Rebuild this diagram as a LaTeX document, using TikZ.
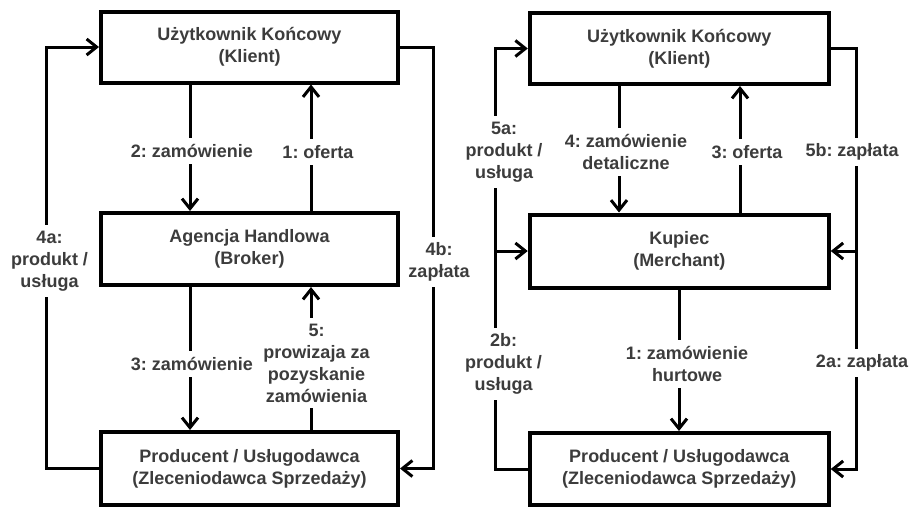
\documentclass[tikz,border=0pt]{standalone}
\usepackage{fontspec}
\setmainfont{Liberation Sans}
\usetikzlibrary{arrows.meta}
\definecolor{txt}{RGB}{60,60,60}
\frenchspacing
\begin{document}
\begin{tikzpicture}[x=1pt,y=-1pt,
  every node/.style={text=txt, font=\bfseries\fontsize{18}{22}\selectfont, align=center},
  box/.style={draw=black, line width=4pt, minimum width=297pt, inner sep=0pt},
  conn/.style={line width=3pt, -{Straight Barb[length=10pt,width=16pt]}},
  lbl/.style={fill=white, inner xsep=2pt, inner ysep=6pt}]
\useasboundingbox (0,0) rectangle (909,507);

% --- left scheme: broker ---
\node[box, minimum height=71pt] (U1) at (249.5,47)    {Użytkownik Końcowy\\(Klient)};
\node[box, minimum height=72pt] (A1) at (249.5,249)   {Agencja Handlowa\\(Broker)};
\node[box, minimum height=73pt] (P1) at (249.5,468.5) {Producent / Usługodawca\\(Zleceniodawca Sprzedaży)};

\coordinate (xa) at (46.5,0);
\coordinate (xb) at (433.5,0);
\coordinate (xo) at (190,0);
\coordinate (xu) at (311,0);

\draw[conn] (U1.south -| xo) -- (A1.north -| xo);
\draw[conn] (A1.north -| xu) -- (U1.south -| xu);
\draw[conn] (A1.south -| xo) -- (P1.north -| xo);
\draw[conn] (P1.north -| xu) -- (A1.south -| xu);
\draw[conn] (P1.west) -- (P1.west -| xa) -- (U1.west -| xa) -- (U1.west);
\draw[conn] (U1.east) -- (U1.east -| xb) -- (P1.east -| xb) -- (P1.east);

\node[lbl] (l2)  at (192,151)   {2: zamówienie};
\node[lbl] (l1)  at (318,152)   {1: oferta};
\node[lbl] (l4a) at (49.5,261)  {4a:\\produkt /\\usługa};
\node[lbl] (l4b) at (439,262)   {4b:\\zapłata};
\node[lbl] (l3)  at (192,364)   {3: zamówienie};
\node[lbl] (l5)  at (316.5,363) {5:\\prowizaja za\\pozyskanie\\zamówienia};

% --- right scheme: merchant ---
\node[box, minimum width=299pt, minimum height=71pt] (U2) at (679.25,48.5) {Użytkownik Końcowy\\(Klient)};
\node[box, minimum width=299pt, minimum height=73pt] (K)  at (679.25,251)  {Kupiec\\(Merchant)};
\node[box, minimum width=299pt, minimum height=72pt] (P2) at (679.25,469)  {Producent / Usługodawca\\(Zleceniodawca Sprzedaży)};

\coordinate (xl) at (495,0);
\coordinate (xr) at (856,0);
\coordinate (xd) at (619,0);
\coordinate (xf) at (740,0);
\coordinate (xh) at (679,0);

\draw[conn] (U2.south -| xd) -- (K.north -| xd);
\draw[conn] (K.north -| xf) -- (U2.south -| xf);
\draw[conn] (K.south -| xh) -- (P2.north -| xh);
\draw[conn] (P2.west) -- (P2.west -| xl) -- (U2.west -| xl) -- (U2.west);
\draw[conn] (K.west -| xl) -- (K.west);
\draw[conn] (U2.east) -- (U2.east -| xr) -- (P2.east -| xr) -- (P2.east);
\draw[conn] (K.east -| xr) -- (K.east);

\node[lbl] (r5a) at (504,152)   {5a:\\produkt /\\usługa};
\node[lbl] (r4)  at (626,152)   {4: zamówienie\\detaliczne};
\node[lbl] (r3)  at (747,152)   {3: oferta};
\node[lbl] (r5b) at (852,152)   {5b: zapłata};
\node[lbl] (r2b) at (503.5,364) {2b:\\produkt /\\usługa};
\node[lbl] (r1)  at (687,364)   {1: zamówienie\\hurtowe};
\node[lbl] (r2a) at (862,363)   {2a: zapłata};
\end{tikzpicture}
\end{document}
